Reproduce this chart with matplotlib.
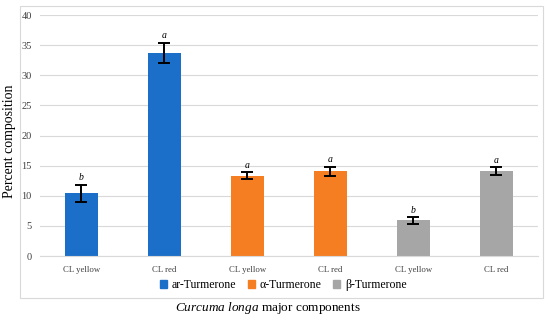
import matplotlib.pyplot as plt
from matplotlib.patches import Rectangle, Patch

categories = ['CL yellow', 'CL red', 'CL yellow', 'CL red', 'CL yellow', 'CL red']
values = [10.4, 33.7, 13.35, 14.1, 5.9, 14.1]
errors = [1.45, 1.7, 0.55, 0.75, 0.55, 0.6]
letters = ['b', 'a', 'a', 'a', 'b', 'a']
series_names = ['ar-Turmerone', 'α-Turmerone', 'β-Turmerone']
series_index = [0, 0, 1, 1, 2, 2]
colors = ['#1C6FC8', '#F57D22', '#A6A6A6']

plt.rcParams['font.family'] = ['Liberation Serif', 'DejaVu Serif']
plt.rcParams['mathtext.fontset'] = 'custom'
plt.rcParams['mathtext.rm'] = 'Liberation Serif'
plt.rcParams['mathtext.it'] = 'Liberation Serif:italic'

fig = plt.figure(figsize=(5.5, 3.2), dpi=100)
# light border round the chart area
fig.patches.append(Rectangle((0.036, 0.069), 0.951, 0.9125, transform=fig.transFigure,
                             fill=False, edgecolor='#d9d9d9', linewidth=0.8))

ax = fig.add_axes([0.0727, 0.2, 0.905, 0.753])
x = list(range(len(categories)))
bar_colors = [colors[i] for i in series_index]
ax.bar(x, values, width=0.4, color=bar_colors, zorder=2)
ax.errorbar(x, values, yerr=errors, fmt='none', ecolor='black', elinewidth=1.4,
            capsize=4, capthick=1.4, zorder=3)
for xi, v, e, lt in zip(x, values, errors, letters):
    ax.text(xi, v + e + 0.4, lt, ha='center', va='bottom', fontsize=7, style='italic')

ax.set_xlim(-0.5, 5.5)
ax.set_ylim(0, 40)
ax.set_yticks(range(0, 41, 5))
ax.set_xticks(x)
ax.set_xticklabels(categories, fontsize=6.3)
ax.tick_params(axis='y', labelsize=7.5, length=0, pad=6, colors='#404040')
ax.tick_params(axis='x', length=0, pad=7, colors='#404040')
ax.grid(axis='y', color='#d9d9d9', linewidth=0.8, zorder=0)
for s in ['top', 'right', 'left']:
    ax.spines[s].set_visible(False)
ax.spines['bottom'].set_color('#d9d9d9')
ax.spines['bottom'].set_linewidth(0.8)

handles = [Patch(color=c, label=n) for c, n in zip(colors, series_names)]
fig.legend(handles=handles, loc='center', bbox_to_anchor=(0.515, 0.109), ncol=3, frameon=False,
           fontsize=8.5, handlelength=0.6, handleheight=0.6, handletextpad=0.4, columnspacing=1.0)

fig.text(0.017, 0.56, 'Percent composition', rotation=90, ha='center', va='center', fontsize=10)
fig.text(0.487, 0.038, r'$\it{Curcuma\ longa}$ major components', ha='center', va='center', fontsize=9.5)

fig.savefig('out.png', dpi=100)
